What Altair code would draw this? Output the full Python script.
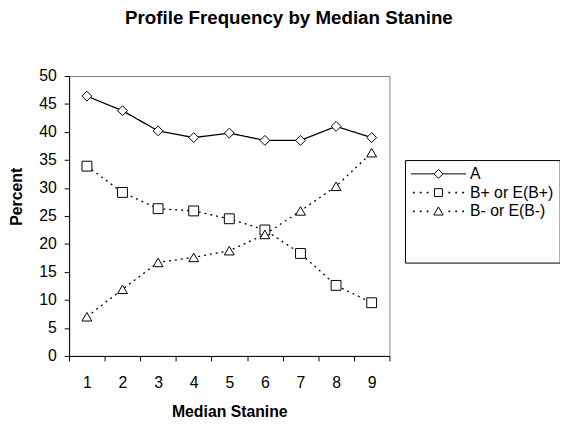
import altair as alt
import pandas as pd

# ---- data ----
stanine = [1, 2, 3, 4, 5, 6, 7, 8, 9]
series_names = ["A", "B+ or E(B+)", "B- or E(B-)"]
a_vals = [46.4, 43.8, 40.2, 39.0, 39.8, 38.5, 38.5, 41.0, 39.0]
bplus_vals = [33.9, 29.2, 26.3, 25.9, 24.5, 22.5, 18.3, 12.6, 9.5]
bminus_vals = [7.0, 11.9, 16.7, 17.6, 18.8, 21.7, 25.9, 30.3, 36.3]
y_ticks = [0, 5, 10, 15, 20, 25, 30, 35, 40, 45, 50]
x_boundaries = [0.5, 1.5, 2.5, 3.5, 4.5, 5.5, 6.5, 7.5, 8.5, 9.5]
blank_entries = ["\u00a0", "\u00a0\u00a0"]

FONT = "Liberation Sans"

df = pd.DataFrame({
    "Stanine": stanine * 3,
    "Series": [s for s in series_names for _ in stanine],
    "Percent": a_vals + bplus_vals + bminus_vals,
})


def dots(sym):
    parts = []
    for c in [-5.0, -3.6, -2.2, 2.2, 3.6, 5.0]:
        parts.append("M%.2f,-0.1h0.2v0.2h-0.2Z" % (c - 0.1))
    return "".join(parts) + sym


legend_paths = [
    "M-5.6,0H-0.9M-0.9,0L0,-0.9L0.9,0L0,0.9ZM0.9,0H5.6",
    dots("M-0.8,-0.8H0.8V0.8H-0.8Z"),
    dots("M0,-0.9L0.95,0.75L-0.95,0.75Z"),
    "M0,0",
    "M0,0",
]

x_enc = alt.X(
    "Stanine:Q",
    scale=alt.Scale(domain=[0.5, 9.5], nice=False, zero=False),
    axis=alt.Axis(
        values=sorted(x_boundaries + stanine),
        labelExpr="datum.value % 1 === 0 ? '' + datum.value : ''",
        tickOpacity={"condition": {"test": "datum.value % 1 === 0", "value": 0}, "value": 1},
        tickSize=5,
        labelPadding=14,
        labelOverlap=False,
        labelFlush=False,
        grid=False,
        title="Median Stanine",
        titleY=56,
        titleBaseline="middle",
    ),
)
y_enc = alt.Y(
    "Percent:Q",
    scale=alt.Scale(domain=[0, 50], nice=False),
    axis=alt.Axis(
        values=y_ticks,
        tickSize=5,
        labelPadding=8,
        grid=False,
        title="Percent",
        titleX=-53,
        titleY=122,
        titleAngle=270,
        titleBaseline="middle",
    ),
)

lines = alt.Chart(df).mark_line(color="black", strokeWidth=1.3).encode(
    x=x_enc,
    y=y_enc,
    strokeDash=alt.StrokeDash(
        "Series:N",
        scale=alt.Scale(domain=series_names, range=[[1, 0], [2, 4], [2, 4]]),
        legend=None,
    ),
)

points = alt.Chart(df).mark_point(
    filled=True, fill="white", stroke="black", strokeWidth=1, size=100, opacity=1
).encode(
    x=x_enc,
    y=y_enc,
    shape=alt.Shape(
        "Series:N",
        scale=alt.Scale(domain=series_names, range=["diamond", "square", "triangle-up"]),
        legend=None,
    ),
)

legend_layer = alt.Chart(df).transform_filter("false").mark_point(
    filled=False, color="black", strokeWidth=1, size=100
).encode(
    x=x_enc,
    y=y_enc,
    shape=alt.Shape(
        "Series:N",
        scale=alt.Scale(domain=series_names + blank_entries, range=legend_paths),
        legend=alt.Legend(
            orient="none",
            legendX=340.7,
            legendY=85.3,
            title=None,
            strokeColor="black",
            fillColor="white",
            padding=6,
            labelFont=FONT,
            labelFontSize=16,
            labelColor="black",
            labelLimit=300,
            symbolSize=100,
            symbolOpacity=1,
            symbolStrokeColor="black",
            symbolStrokeWidth=1,
            symbolOffset=20,
            labelOffset=24,
            rowPadding=3,
        ),
    ),
)

chart = alt.layer(lines, points, legend_layer).resolve_scale(
    shape="independent"
).properties(
    width=325,
    height=284,
    padding={"left": 62, "top": 66, "right": 173, "bottom": 61},
    autosize=alt.AutoSizeParams(type="none"),
    title=alt.TitleParams(
        "Profile Frequency by Median Stanine",
        font=FONT,
        fontSize=19,
        fontWeight="bold",
        color="black",
        anchor="middle",
        dx=60.5,
        offset=41,
    ),
).configure(
    background="white"
).configure_view(
    stroke="#808080", strokeWidth=1, fill="white"
).configure_axis(
    domainColor="black",
    tickColor="black",
    labelColor="black",
    labelFont=FONT,
    labelFontSize=16,
    titleFont=FONT,
    titleFontSize=16,
    titleFontWeight="bold",
    titleColor="black",
)

chart.save("out.html", embed_options={"renderer": "svg", "actions": False})
